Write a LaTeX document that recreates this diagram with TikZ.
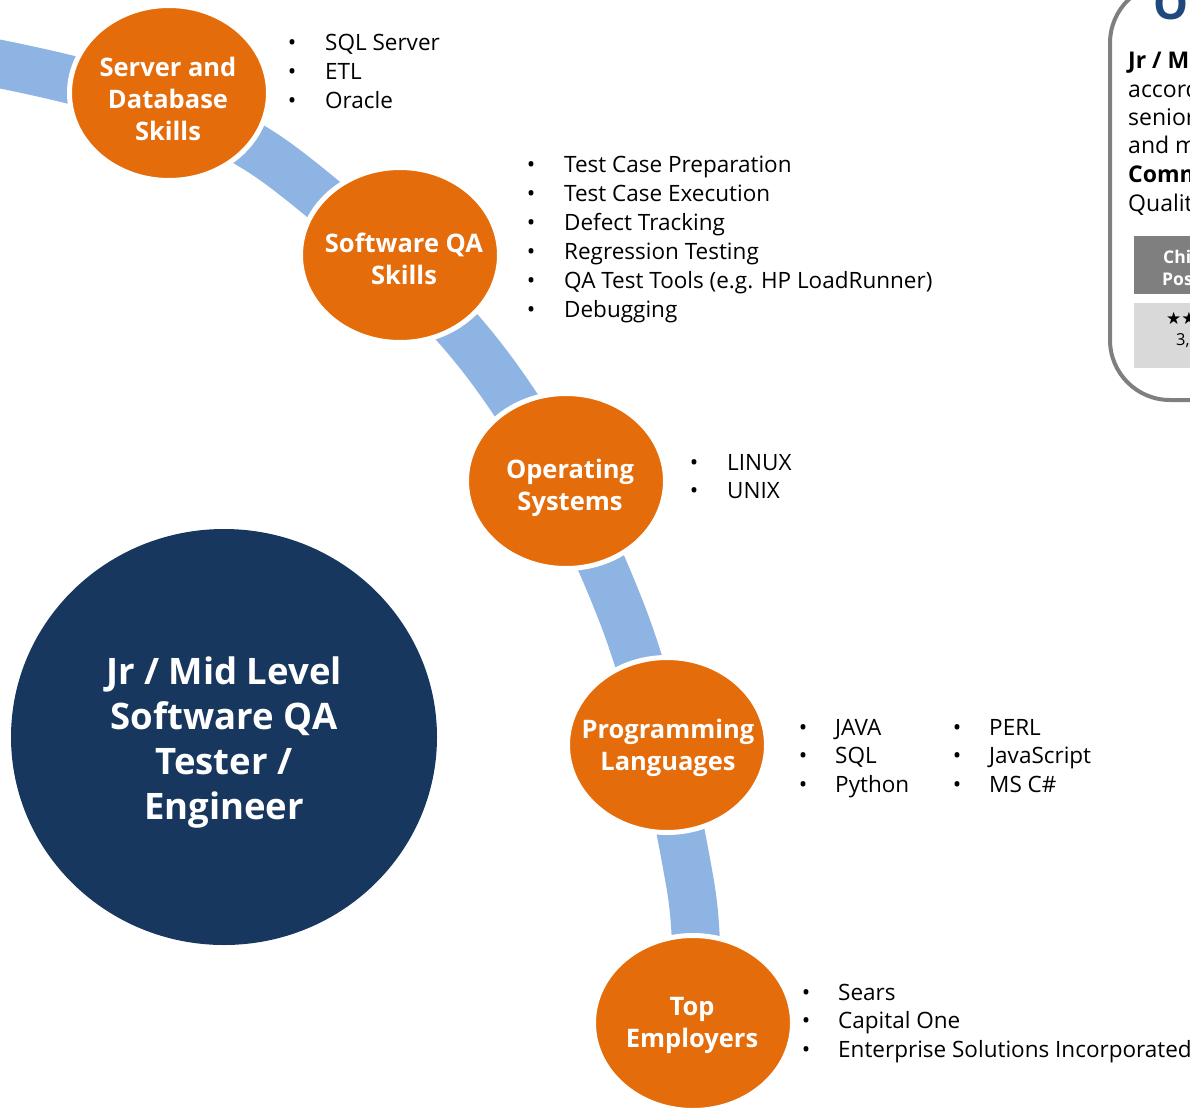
\documentclass[tikz,border=0pt]{standalone}
\usepackage{fontspec}
\setmainfont{Open Sans}
\newfontfamily\symfont{DejaVu Sans}
\usetikzlibrary{shapes.geometric}
\pgfdeclarelayer{background}
\pgfsetlayers{background,main}
\definecolor{qaorange}{HTML}{E46C0A}
\definecolor{qaband}{HTML}{8EB4E3}
\definecolor{qanavy}{HTML}{17375E}
\definecolor{qahead}{HTML}{1F497D}
\definecolor{qagray}{HTML}{7F7F7F}
\definecolor{qalight}{HTML}{D9D9D9}
\tikzset{
  skill/.style={ellipse, fill=qaorange, draw=white, line width=5pt,
    minimum width=199pt, minimum height=175pt, inner sep=0pt},
  skilltxt/.style={inner sep=0pt, text=white,
    font=\fontsize{25.5}{32}\selectfont\bfseries, align=center},
  hub/.style={ellipse, fill=qanavy, minimum width=426pt, minimum height=416pt, inner sep=0pt},
  hubtxt/.style={inner sep=0pt, text=white, font=\fontsize{36.5}{45}\selectfont\bfseries, align=center},
  itemtxt/.style={anchor=base west, inner sep=0pt, font=\fontsize{22.5}{28}\selectfont},
  bul/.style={anchor=base, inner sep=0pt, font=\fontsize{22.5}{28}\selectfont},
  band/.style={draw=qaband, line width=48pt},
  boxtxt/.style={anchor=base west, inner sep=0pt, font=\fontsize{23}{28}\selectfont},
}
\newcommand\qalist[6]{%
  \foreach \qaitem [count=\qai] in {#6} {
    \node[bul] (#1b\qai) at (#2, {#4+#5*(\qai-1)}) {\textbullet};
    \node[itemtxt] (#1t\qai) at (#3, {#4+#5*(\qai-1)}) {\qaitem};
  }}
\begin{document}
\begin{tikzpicture}[x=1pt, y=-1pt]
\useasboundingbox (0,0) rectangle (1190,1108);
\clip (0,0) rectangle (1190,1108);

% circles
\node[skill] (sdb) at (169,93) {};
\node[skill] (sqa) at (400,255) {};
\node[skill] (os) at (566,481) {};
\node[skill] (pl) at (667,745) {};
\node[skill] (te) at (693,1023) {};
\node[hub] (hub) at (224,737) {};
\node[skilltxt] (sdbt) at (168,99) {Server and\\Database\\Skills};
\node[skilltxt] (sqat) at (404,259) {Software QA\\Skills};
\node[skilltxt] (ost) at (570,488) {Operating\\Systems};
\node[skilltxt] (plt) at (668,748) {Programming\\Languages};
\node[skilltxt] (tet) at (692,1025) {Top\\Employers};
\node[hubtxt] (hubt) at (224,743) {Jr / Mid Level\\Software QA\\Tester /\\Engineer};

% band
\coordinate (b0) at (-120,48);
\coordinate (b1) at (0,64);
\coordinate (b2) at (148,103);
\coordinate (b3) at (288,171);
\coordinate (b4) at (487,364);
\coordinate (b5) at (621,611);
\coordinate (b6) at (690,883);
\begin{pgfonlayer}{background}
\draw[band] plot[smooth, tension=0.6] coordinates {(b0) (b1) (b2) (b3) (b4) (b5) (b6) (te.center)};
\end{pgfonlayer}

% lists
\qalist{la}{292}{325}{51}{28.7}{SQL Server, ETL, Oracle}
\qalist{lb}{531}{564}{172}{29}{Test Case Preparation, Test Case Execution, Defect Tracking, Regression Testing, QA Test Tools (e.g. HP LoadRunner), Debugging}
\qalist{lc}{694}{727}{470}{28}{LINUX, UNIX}
\qalist{ld}{803}{835}{735}{28.7}{JAVA, SQL, Python}
\qalist{le}{957}{989}{735}{28.7}{PERL, JavaScript, MS C\#}
\qalist{lf}{806}{838}{1000}{28.5}{Sears, Capital One, Enterprise Solutions Incorporated}

% overview box (cut off at the right edge)
\draw[qagray, line width=4pt, rounded corners=60pt] (1110,-17) rectangle (1420,400);
\node[anchor=base west, inner sep=0pt, text=qahead, font=\fontsize{44}{50}\selectfont\bfseries] (ovh) at (1153,20) {Oc};
\node[boxtxt] (ov1) at (1128,68) {\textbf{Jr / M}};
\node[boxtxt] (ov2) at (1128,97) {accord};
\node[boxtxt] (ov3) at (1128,125) {senior};
\node[boxtxt] (ov4) at (1128,153) {and m};
\node[boxtxt] (ov5) at (1128,182) {\textbf{Comm}};
\node[boxtxt] (ov6) at (1128,211) {Qualit};
\fill[qagray] (1134,236) rectangle (1200,294);
\fill[qalight] (1134,303) rectangle (1200,368);
\node[anchor=base west, inner sep=0pt, text=white, font=\fontsize{17.5}{20}\selectfont\bfseries] (th1) at (1163,263) {Chi};
\node[anchor=base west, inner sep=0pt, text=white, font=\fontsize{17.5}{20}\selectfont\bfseries] (th2) at (1162,285) {Pos};
\node[anchor=base west, inner sep=0pt, font=\fontsize{17}{18}\symfont] (td1) at (1166,324) {★★};
\node[anchor=base west, inner sep=0pt, font=\fontsize{16.5}{18}\selectfont] (td2) at (1176,345) {3,};
\end{tikzpicture}
\end{document}
